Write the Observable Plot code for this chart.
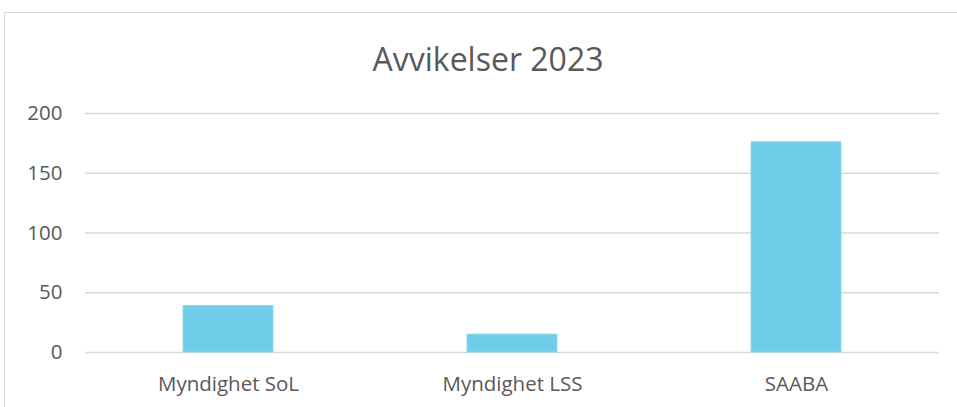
<!DOCTYPE html>
<html>
<head>
<meta charset="utf-8">
<script src="https://cdn.jsdelivr.net/npm/d3@7"></script>
<script src="https://cdn.jsdelivr.net/npm/@observablehq/plot@0.6"></script>
<style>
  html, body { margin: 0; padding: 0; background: #fff; overflow: hidden; width: 957px; height: 407px; }
  #frame { position: absolute; left: 4px; top: 12px; width: 1000px; height: 500px; border: 1px solid #d9d9d9; box-sizing: border-box; }
  #chart { position: absolute; left: 0; top: 0; }
</style>
</head>
<body>
<div id="frame"></div>
<div id="chart"></div>
<script>
const titleText = "Avvikelser 2023";
const categories = ["Myndighet SoL", "Myndighet LSS", "SAABA"];
const values = [39, 15, 176];
const yTicks = [0, 50, 100, 150, 200];

const data = categories.map((c, i) => ({category: c, value: values[i]}));

const textColor = "#595959";
const font = "'Open Sans', sans-serif";

const chart = Plot.plot({
  width: 957,
  height: 407,
  marginLeft: 85,
  marginRight: 18,
  marginTop: 113,
  marginBottom: 55,
  style: {fontFamily: font, color: textColor, background: "transparent", overflow: "visible"},
  x: {domain: categories, paddingInner: 0.684, paddingOuter: 0.342, label: null},
  y: {domain: [0, 200], ticks: yTicks, label: null},
  marks: [
    Plot.ruleY(yTicks, {stroke: "#d9d9d9", strokeWidth: 1.3}),
    Plot.barY(data, {x: "category", y: "value", fill: "#6fcde9", stroke: "#8ad6ee", strokeWidth: 0.8}),
    Plot.axisY({ticks: yTicks, tickSize: 0, tickPadding: 23, fontSize: 20.5, fill: textColor, label: null}),
    Plot.axisX({tickSize: 0, tickPadding: 24, fontSize: 20.5, fill: textColor, label: null}),
    Plot.text([titleText], {frameAnchor: "top", dx: -24.5, dy: -65, fontSize: 32, fill: textColor, text: d => d})
  ]
});
document.getElementById("chart").appendChild(chart);
</script>
</body>
</html>
